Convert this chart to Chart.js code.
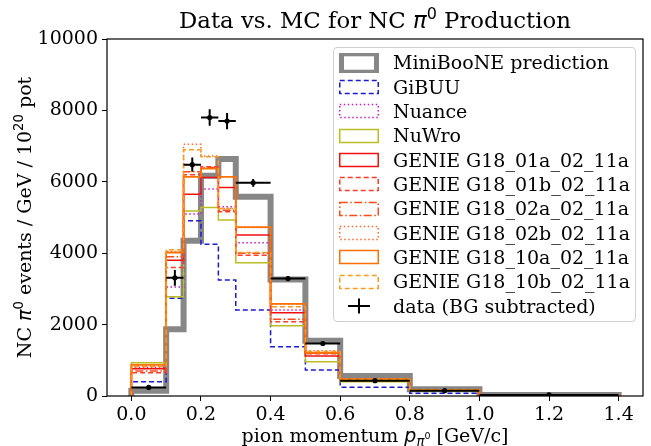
<!DOCTYPE html>
<html>
<head>
<meta charset="utf-8">
<script src="https://cdn.jsdelivr.net/npm/chart.js@4/dist/chart.umd.min.js"></script>
<style>
html,body{margin:0;padding:0;background:#fff;}
#wrap{position:relative;width:651px;height:446px;overflow:hidden;}
canvas{display:block;}
#legbox{position:absolute;left:333px;top:47px;width:303px;height:275px;box-sizing:border-box;border:1px solid #d0d0d0;border-radius:4px;background:rgba(255,255,255,0.85);}
.lrow{position:absolute;left:393px;height:24px;line-height:24px;font-family:'DejaVu Serif';font-size:19px;color:#000;white-space:nowrap;}
.lh{position:absolute;left:339px;width:40px;height:20px;}
</style>
</head>
<body>
<div id="wrap">
<canvas id="c" width="651" height="446"></canvas>
<div id="legbox"></div>
</div>
<script>
// ---- data ----
const binEdges = [0, 0.1, 0.15, 0.2, 0.25, 0.3, 0.4, 0.5, 0.6, 0.8, 1.0, 1.4];
const miniboone = [150, 1870, 4350, 6170, 6640, 5580, 3260, 1550, 560, 190, 25];
const gibuu     = [400, 2740, 4910, 4250, 3250, 2410, 1380, 730, 245, 75, 10];
const nuance    = [800, 3050, 5100, 5800, 5300, 4290, 2410, 1200, 450, 160, 20];
const nuwro     = [930, 2780, 5180, 5280, 4930, 3730, 1970, 960, 400, 150, 20];
const genie01a  = [760, 3800, 5650, 6120, 5840, 4510, 2330, 1120, 450, 165, 20];
const genie01b  = [650, 3600, 6200, 6420, 5160, 3940, 2080, 1180, 440, 160, 20];
const genie02a  = [700, 3900, 6280, 6400, 5200, 4000, 2150, 1200, 450, 165, 20];
const genie02b  = [830, 4050, 7050, 6720, 5250, 4720, 2580, 1270, 470, 170, 22];
const genie10a  = [870, 4020, 6140, 6370, 6140, 4730, 2580, 1210, 470, 170, 22];
const genie10b  = [820, 4100, 6900, 6700, 5250, 4020, 2500, 1250, 460, 170, 22];

const dataX    = [0.05, 0.125, 0.175, 0.225, 0.275, 0.35, 0.45, 0.55, 0.7, 0.9, 1.2];
const dataY    = [240, 3310, 6480, 7800, 7700, 5970, 3290, 1470, 430, 150, 30];
const dataXErr = [0.05, 0.025, 0.025, 0.025, 0.025, 0.05, 0.05, 0.05, 0.1, 0.1, 0.2];
const dataYErr = [60, 220, 200, 230, 230, 110, 70, 50, 30, 20, 10];

const xTickValues = [0, 0.2, 0.4, 0.6, 0.8, 1.0, 1.2, 1.4];
const yTickValues = [0, 2000, 4000, 6000, 8000, 10000];

// ---- styles ----
const series = [
  {label:'MiniBooNE prediction', values:miniboone, color:'#878787', width:6, dash:[]},
  {label:'GiBUU', values:gibuu, color:'#1a1ad0', width:1.5, dash:[5,3]},
  {label:'Nuance', values:nuance, color:'#c020c0', width:1.5, dash:[1.5,2.5]},
  {label:'NuWro', values:nuwro, color:'#bcbd22', width:1.5, dash:[]},
  {label:'GENIE G18_01a_02_11a', values:genie01a, color:'#f01010', width:1.5, dash:[]},
  {label:'GENIE G18_01b_02_11a', values:genie01b, color:'#ff3b2a', width:1.5, dash:[5,3]},
  {label:'GENIE G18_02a_02_11a', values:genie02a, color:'#ff4a1a', width:1.5, dash:[8,2.5,1.5,2.5]},
  {label:'GENIE G18_02b_02_11a', values:genie02b, color:'#ff6a30', width:1.5, dash:[1.5,2.5]},
  {label:'GENIE G18_10a_02_11a', values:genie10a, color:'#ff7000', width:1.8, dash:[]},
  {label:'GENIE G18_10b_02_11a', values:genie10b, color:'#ff9a20', width:1.5, dash:[5,3]}
];

function stepPoints(vals){
  const n = binEdges.length - 1;
  const pts = [{x:binEdges[0], y:0}];
  for (let i=0;i<vals.length;i++) pts.push({x:binEdges[i], y:vals[i]});
  pts.push({x:binEdges[n], y:vals[vals.length-1]});
  pts.push({x:binEdges[n], y:0});
  return pts;
}

const datasets = series.map((s,i)=>({
  label:s.label, data:stepPoints(s.values), borderColor:s.color, borderWidth:s.width,
  borderDash:s.dash, stepped:'before', pointRadius:0, fill:false, tension:0,
  borderJoinStyle:'miter', order: 50 - i
}));

const errPts = [];
dataX.forEach((x,i)=>{
  const y = dataY[i];
  errPts.push({x:x-dataXErr[i], y:y},{x:x+dataXErr[i], y:y},{x:x, y:null});
  errPts.push({x:x, y:y-dataYErr[i]},{x:x, y:y+dataYErr[i]},{x:x, y:null});
});
datasets.push({label:'data (BG subtracted)', data:errPts, borderColor:'#000', borderWidth:2,
  pointRadius:0, fill:false, spanGaps:false, order:2});
datasets.push({label:'data points', data:dataX.map((x,i)=>({x:x,y:dataY[i]})), showLine:false,
  pointRadius:2.6, pointBackgroundColor:'#000', pointBorderWidth:0, order:1});

// ---- rich text helpers ----
const SERIF = "'DejaVu Serif'";
const SANS = "'DejaVu Sans'";
function drawRich(ctx, parts, x, y){
  let w = 0;
  parts.forEach(p=>{ ctx.font = p[1]; p.w = ctx.measureText(p[0]).width; w += p.w; });
  let cx = x - w/2;
  ctx.textAlign = 'left'; ctx.textBaseline = 'alphabetic'; ctx.fillStyle = '#000';
  parts.forEach(p=>{ ctx.font = p[1]; ctx.fillText(p[0], cx, y + p[2]); cx += p.w; });
}
const FS = 19, TS = 22.8;
const labelPlugin = {
  id:'labels',
  afterDraw(chart){
    const ctx = chart.ctx, a = chart.chartArea;
    ctx.save();
    // frame
    ctx.strokeStyle = '#000'; ctx.lineWidth = 1.2;
    ctx.strokeRect(a.left, a.top, a.right - a.left, a.bottom - a.top);
    const cx = (a.left + a.right)/2;
    // title
    drawRich(ctx, [
      ['Data vs. MC for NC ', `${TS}px ${SERIF}`, 0],
      ['\u03c0', `italic ${TS}px ${SANS}`, 0],
      ['0', `${(TS*0.7).toFixed(1)}px ${SANS}`, -9],
      [' Production', `${TS}px ${SERIF}`, 0]
    ], cx, 28);
    // x label
    drawRich(ctx, [
      ['pion momentum ', `${FS}px ${SERIF}`, 0],
      ['p', `italic ${FS}px ${SANS}`, 0],
      ['\u03c0', `italic ${(FS*0.7).toFixed(1)}px ${SANS}`, 3.5],
      ['0', `${(FS*0.5).toFixed(1)}px ${SANS}`, -3],
      [' [GeV/c]', `${FS}px ${SERIF}`, 0]
    ], cx, 442);
    // y label
    ctx.translate(30.5, (a.top + a.bottom)/2);
    ctx.rotate(-Math.PI/2);
    drawRich(ctx, [
      ['NC ', `${FS}px ${SERIF}`, 0],
      ['\u03c0', `italic ${FS}px ${SANS}`, 0],
      ['0', `${(FS*0.7).toFixed(1)}px ${SANS}`, -7.5],
      [' events / GeV / 10', `${FS}px ${SERIF}`, 0],
      ['20', `${(FS*0.7).toFixed(1)}px ${SANS}`, -7.5],
      [' pot', `${FS}px ${SERIF}`, 0]
    ], 0, 0);
    ctx.restore();
  }
};

const tickFont = {family:'DejaVu Serif', size:FS};
new Chart(document.getElementById('c'), {
  type:'line',
  data:{datasets:datasets},
  options:{
    responsive:false, animation:false, devicePixelRatio:1,
    layout:{padding:{top:39, right:8, left:0, bottom:0}},
    plugins:{legend:{display:false}, title:{display:false}, tooltip:{enabled:false}},
    elements:{line:{capBezierPoints:false}},
    scales:{
      x:{type:'linear', min:-0.07, max:1.47,
        afterBuildTicks:s=>{ s.ticks = xTickValues.map(v=>({value:v})); },
        afterFit:s=>{ s.height = 50; },
        ticks:{font:tickFont, color:'#000', padding:3, maxRotation:0, autoSkip:false,
          callback:v=>Number(v).toFixed(1)},
        grid:{display:true, drawOnChartArea:false, drawTicks:true, tickLength:5, color:'#000', lineWidth:1},
        border:{display:false}
      },
      y:{type:'linear', min:0, max:10000,
        afterBuildTicks:s=>{ s.ticks = yTickValues.map(v=>({value:v})); },
        afterFit:s=>{ s.width = 107; },
        ticks:{font:tickFont, color:'#000', padding:4, callback:v=>String(v)},
        grid:{display:true, drawOnChartArea:false, drawTicks:true, tickLength:5, color:'#000', lineWidth:1},
        border:{display:false}
      }
    }
  },
  plugins:[labelPlugin]
});

// ---- HTML legend ----
const wrap = document.getElementById('wrap');
const rowY0 = 62.7, rowPitch = 24.33;
const NS = 'http://www.w3.org/2000/svg';
function addRow(i, label, svgInner){
  const cy = rowY0 + rowPitch*i;
  const h = document.createElementNS(NS,'svg');
  h.setAttribute('class','lh'); h.setAttribute('width','40'); h.setAttribute('height','20');
  h.style.top = (cy - 10) + 'px';
  h.innerHTML = svgInner;
  wrap.appendChild(h);
  const t = document.createElement('div');
  t.className = 'lrow'; t.textContent = label; t.style.top = (cy - 12.5) + 'px';
  wrap.appendChild(t);
}
series.forEach((s,i)=>{
  let inner;
  if (s.width > 3) {
    inner = `<rect x="2.5" y="0.8" width="35" height="18.4" fill="none" stroke="${s.color}" stroke-width="5"/>`;
  } else {
    inner = `<rect x="0.75" y="3.5" width="38.5" height="13" fill="none" stroke="${s.color}" stroke-width="1.5" stroke-dasharray="${s.dash.join(',')||'none'}"/>`;
  }
  addRow(i, s.label, inner);
});
addRow(series.length, 'data (BG subtracted)',
  '<line x1="9" y1="10" x2="31" y2="10" stroke="#000" stroke-width="2"/><line x1="20" y1="2.5" x2="20" y2="17.5" stroke="#000" stroke-width="2"/>');
</script>
</body>
</html>
